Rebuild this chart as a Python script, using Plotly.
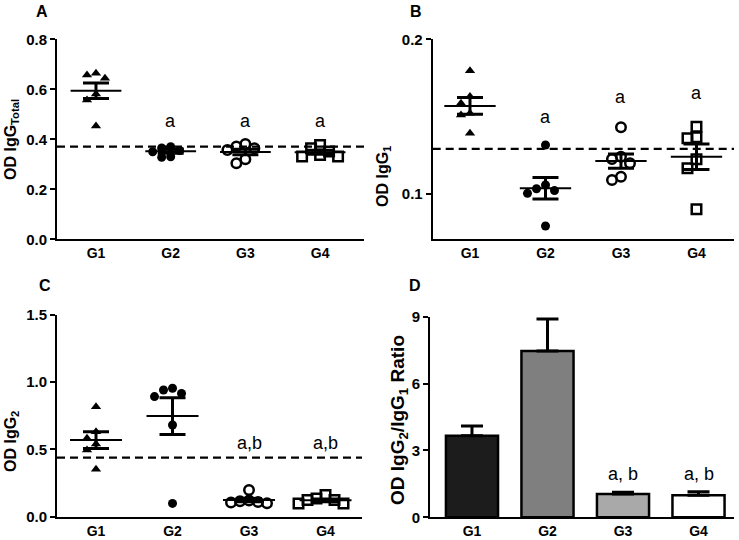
import plotly.graph_objects as go

groups = ["G1", "G2", "G3", "G4"]

# Panel A: OD IgG Total
a_points = [
    [0.664, 0.657, 0.644, 0.581, 0.557, 0.453],
    [0.370, 0.365, 0.355, 0.350, 0.330, 0.328],
    [0.381, 0.371, 0.364, 0.357, 0.320, 0.304],
    [0.377, 0.364, 0.351, 0.337, 0.331, 0.331],
]
a_mean = [0.594, 0.352, 0.349, 0.348]
a_sem = [0.031, 0.008, 0.011, 0.008]
a_cutoff = 0.371
a_letters = ["", "a", "a", "a"]
a_letter_y = [0, 0.475, 0.475, 0.475]

# Panel B: OD IgG1
b_points = [
    [0.1797, 0.1630, 0.1586, 0.1522, 0.1510, 0.1392],
    [0.1317, 0.1058, 0.1034, 0.1022, 0.1004, 0.0793],
    [0.1431, 0.1241, 0.1226, 0.1198, 0.1112, 0.1090],
    [0.1435, 0.1366, 0.1360, 0.1224, 0.1166, 0.0901],
]
b_mean = [0.1569, 0.1037, 0.1213, 0.1241]
b_sem = [0.0054, 0.0069, 0.0046, 0.0082]
b_cutoff = 0.1291
b_letters = ["", "a", "a", "a"]
b_letter_y = [0, 0.1496, 0.1630, 0.1650]

# Panel C: OD IgG2
c_points = [
    [0.818, 0.632, 0.583, 0.540, 0.496, 0.352],
    [0.955, 0.942, 0.917, 0.893, 0.682, 0.099],
    [0.198, 0.120, 0.115, 0.110, 0.105, 0.100],
    [0.161, 0.136, 0.124, 0.124, 0.099, 0.099],
]
c_mean = [0.570, 0.748, 0.124, 0.122]
c_sem = [0.062, 0.136, 0.012, 0.010]
c_cutoff = 0.439
c_letters = ["", "", "a,b", "a,b"]
c_letter_y = [0, 0, 0.545, 0.545]

# Panel D: IgG2/IgG1 ratio
d_mean = [3.66, 7.46, 1.05, 0.99]
d_sem = [0.44, 1.44, 0.07, 0.16]
d_letters = ["", "", "a, b", "a, b"]
d_letter_y = [0, 0, 1.94, 1.94]

FONT = "Arial, Liberation Sans, sans-serif"
W, H = 739, 540

symbols = ["triangle-up", "circle", "circle-open", "square-open"]
sizes = [9, 9, 9.5, 9.5]


def swarm(values, px_per_unit, px_per_cat, diam=9.0, step=9.0):
    placed = []
    offs = []
    for v in values:
        y = v * px_per_unit
        for k in [0, -1, 1, -2, 2, -3, 3]:
            x = k * step
            if all((x - px) ** 2 + (y - py) ** 2 >= diam ** 2 for px, py in placed):
                break
        placed.append((x, y))
        offs.append(x / px_per_cat)
    return offs


fig = go.Figure()

# axis geometry (pixels) per panel
panels = {
    "A": dict(xd=(57, 364), yd=(39.3, 239.3), xr=(-0.522, 3.588), yr=(0, 0.8)),
    "B": dict(xd=(432.7, 734), yd=(39.3, 239.3), xr=(-0.494, 3.497), yr=(0.0707, 0.2)),
    "C": dict(xd=(57, 362), yd=(315, 516.7), xr=(-0.51, 3.477), yr=(0, 1.5)),
    "D": dict(xd=(430, 734), yd=(316.7, 517.3), xr=(-0.556, 3.47), yr=(0, 9)),
}
axis_ids = {"A": ("x", "y"), "B": ("x2", "y2"), "C": ("x3", "y3"), "D": ("x4", "y4")}


def scales(key):
    p = panels[key]
    pxc = (p["xd"][1] - p["xd"][0]) / (p["xr"][1] - p["xr"][0])
    pxu = (p["yd"][1] - p["yd"][0]) / (p["yr"][1] - p["yr"][0])
    return pxc, pxu


def scatter_panel(key, points, mean, sem, cutoff, letters, letter_y, half=0.34, cap=13):
    xa, ya = axis_ids[key]
    pxc, pxu = scales(key)
    p = panels[key]
    fig.add_trace(go.Scatter(x=[p["xr"][0], p["xr"][1]], y=[cutoff, cutoff], mode="lines",
                             line=dict(color="black", width=2.2, dash="8px,5px"),
                             xaxis=xa, yaxis=ya, showlegend=False, hoverinfo="skip"))
    for i, vals in enumerate(points):
        offs = swarm(vals, pxu, pxc)
        fig.add_trace(go.Scatter(
            x=[i + o for o in offs], y=vals, mode="markers",
            marker=dict(symbol=symbols[i], size=sizes[i], color="black",
                        line=dict(color="black", width=2.5 if "open" in symbols[i] else 0)),
            xaxis=xa, yaxis=ya, showlegend=False, cliponaxis=False))
        fig.add_trace(go.Scatter(x=[i - half, i + half], y=[mean[i], mean[i]], mode="lines",
                                 line=dict(color="black", width=2), xaxis=xa, yaxis=ya,
                                 showlegend=False, hoverinfo="skip"))
        fig.add_trace(go.Scatter(x=[i], y=[mean[i]], mode="markers",
                                 marker=dict(size=1, color="rgba(0,0,0,0)"),
                                 error_y=dict(type="data", array=[sem[i]], color="black",
                                              thickness=3, width=cap),
                                 xaxis=xa, yaxis=ya, showlegend=False, hoverinfo="skip"))
    for i, t in enumerate(letters):
        if t:
            fig.add_annotation(x=i, y=letter_y[i], xref=xa, yref=ya, text=t, showarrow=False,
                               xanchor="center", yanchor="middle",
                               font=dict(family=FONT, size=18, color="black"))


scatter_panel("A", a_points, a_mean, a_sem, a_cutoff, a_letters, a_letter_y)
scatter_panel("B", b_points, b_mean, b_sem, b_cutoff, b_letters, b_letter_y)
scatter_panel("C", c_points, c_mean, c_sem, c_cutoff, c_letters, c_letter_y)

# Panel D bars
bar_colors = ["#1c1c1c", "#7f7f7f", "#a9a9a9", "#ffffff"]
fig.add_trace(go.Bar(x=[0, 1, 2, 3], y=d_mean, width=0.69,
                     marker=dict(color=bar_colors, line=dict(color="black", width=2.5)),
                     error_y=dict(type="data", symmetric=False, array=d_sem,
                                  arrayminus=[0, 0, 0, 0], color="black", thickness=3, width=11),
                     xaxis="x4", yaxis="y4", showlegend=False))
for i, t in enumerate(d_letters):
    if t:
        fig.add_annotation(x=i, y=d_letter_y[i], xref="x4", yref="y4", text=t, showarrow=False,
                           xanchor="center", yanchor="middle",
                           font=dict(family=FONT, size=18, color="black"))

ytick_cfg = {
    "A": dict(tickvals=[0, 0.2, 0.4, 0.6, 0.8], ticktext=["0.0", "0.2", "0.4", "0.6", "0.8"]),
    "B": dict(tickvals=[0.1, 0.2], ticktext=["0.1", "0.2"]),
    "C": dict(tickvals=[0, 0.5, 1.0, 1.5], ticktext=["0.0", "0.5", "1.0", "1.5"]),
    "D": dict(tickvals=[0, 3, 6, 9], ticktext=["0", "3", "6", "9"]),
}
layout = {}
for key, p in panels.items():
    xa, ya = axis_ids[key]
    xname = "xaxis" if xa == "x" else "xaxis" + xa[1:]
    yname = "yaxis" if ya == "y" else "yaxis" + ya[1:]
    layout[xname] = dict(
        domain=[p["xd"][0] / W, p["xd"][1] / W], range=list(p["xr"]), anchor=ya,
        tickvals=[0, 1, 2, 3], ticktext=groups, showgrid=False, zeroline=False,
        showline=True, linecolor="black", linewidth=2, ticks="", ticklen=0,
        ticklabelstandoff=0, automargin=False,
        tickfont=dict(family=FONT, size=14, color="black", weight="bold"), fixedrange=True)
    layout[yname] = dict(
        domain=[(H - p["yd"][1]) / H, (H - p["yd"][0]) / H], range=list(p["yr"]), anchor=xa,
        showgrid=False, zeroline=False, showline=True, linecolor="black", linewidth=2,
        ticks="outside", ticklen=5, tickwidth=2, tickcolor="black", automargin=False,
        tickfont=dict(family=FONT, size=15, color="black", weight="bold"), fixedrange=True,
        **ytick_cfg[key])

fig.update_layout(width=W, height=H, margin=dict(l=0, r=0, t=0, b=0, autoexpand=False),
                  paper_bgcolor="white", plot_bgcolor="white", **layout)

for txt, x, y in [("A", 42, 11), ("B", 416, 11), ("C", 45, 285), ("D", 415, 285)]:
    fig.add_annotation(x=x / W, y=1 - y / H, xref="paper", yref="paper", text=txt,
                       showarrow=False, xanchor="center", yanchor="middle",
                       font=dict(family=FONT, size=16, color="black", weight="bold"))

for txt, x, y, s in [("OD IgG<sub>Total</sub>", 11, 140, 16),
                     ("OD IgG<sub>1</sub>", 384, 177, 16),
                     ("OD IgG<sub>2</sub>", 11, 442, 16),
                     ("OD IgG<sub>2</sub>/IgG<sub>1</sub> Ratio", 399, 420, 19)]:
    fig.add_annotation(x=x / W, y=1 - y / H, xref="paper", yref="paper", text=txt,
                       textangle=-90, showarrow=False, xanchor="center", yanchor="middle",
                       font=dict(family=FONT, size=s, color="black", weight="bold"))

fig.write_html("out.html", config={"displayModeBar": False},
               post_script="document.body.style.margin='0px';document.body.style.overflow='hidden';")
